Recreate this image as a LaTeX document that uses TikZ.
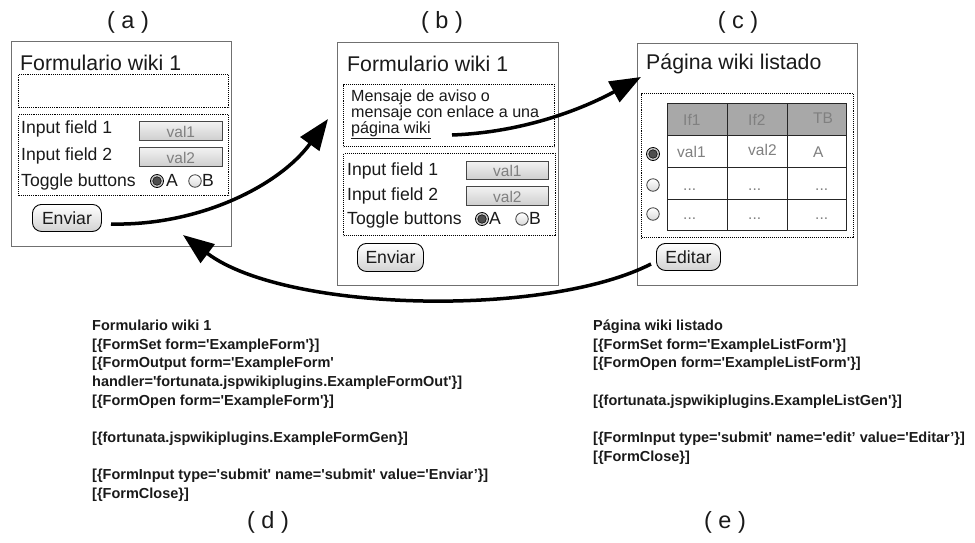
\documentclass[tikz,border=0pt]{standalone}
\usepackage{fontspec}
\setmainfont{Liberation Sans}
\usetikzlibrary{arrows.meta}

\newcommand\fsz[2]{\fontsize{#1}{#2}\selectfont}
\newcommand\sq{\textquotesingle}

\definecolor{frame}{HTML}{707070}
\definecolor{txt}{HTML}{1A1A1A}
\definecolor{valtxt}{HTML}{808080}
\definecolor{hdr}{HTML}{A8A8A8}
\definecolor{radiodark}{HTML}{4D4D4D}

\tikzset{
  panel/.style={draw=frame, line width=1.2pt, fill=white, inner sep=0pt, anchor=north west},
  dotbox/.style={draw=black, line width=1.2pt, dash pattern=on 1.1pt off 1pt, inner sep=0pt, anchor=north west},
  title/.style={anchor=base west, inner sep=0pt, font=\fsz{21.3}{25}, text=txt},
  lbl/.style={anchor=base west, inner sep=0pt, font=\fsz{17.6}{21}, text=txt},
  msg/.style={anchor=base west, inner sep=0pt, font=\fsz{16.1}{19}, text=txt},
  valbox/.style={draw=gray!55!black, line width=.8pt, top color=gray!10, bottom color=gray!38,
    text=valtxt, font=\fsz{15.5}{18}, minimum width=83pt, minimum height=19pt, inner sep=0pt,
    anchor=north west, text height=12.5pt, text depth=0pt},
  button/.style={draw=black, line width=.9pt, rounded corners=9pt, top color=white, bottom color=gray!35,
    font=\fsz{17.6}{21}, text=txt, inner sep=0pt, anchor=north west},
  radioon/.style={circle, draw=black, line width=.8pt, fill=gray!40, minimum size=13pt, inner sep=0pt,
    path picture={\fill[radiodark, draw=black, line width=.5pt] (path picture bounding box.center) circle (4.3pt);}},
  radiooff/.style={circle, draw=gray!50!black, line width=.8pt, top color=white, bottom color=gray!30,
    minimum size=12.5pt, inner sep=0pt},
  tag/.style={font=\fsz{23.5}{28}, text=txt, inner sep=0pt},
  code/.style={anchor=north west, inner sep=0pt, align=left, font=\bfseries\fsz{14.5}{18.7}, text=txt},
  cell/.style={anchor=base west, inner sep=0pt, font=\fsz{15.5}{18}, text=valtxt},
  flow/.style={line width=3.5pt, black, -{Triangle[length=31pt,width=23pt]}},
  grid/.style={draw=black!85, line width=1pt}
}

\begin{document}
\begin{tikzpicture}[x=1pt, y=-1pt]
\useasboundingbox (0,0) rectangle (975,542);

% ---------- (a) form page ----------
\node[tag] (la) at (128,22) {( a )};
\node[panel, minimum width=220pt, minimum height=205pt] (pa) at (11,41) {};
\node[title] (ta) at (20,70) {Formulario wiki 1};
\node[dotbox, minimum width=210pt, minimum height=33pt] (da1) at (18,74) {};
\node[dotbox, minimum width=210pt, minimum height=81pt] (da2) at (18,114) {};
\node[lbl] (a1) at (21,133) {Input field 1};
\node[valbox] (av1) at (139,121) {val1};
\node[lbl] (a2) at (21,160) {Input field 2};
\node[valbox] (av2) at (139,147) {val2};
\node[lbl] (a3) at (21,186) {Toggle buttons};
\node[radioon] (ara) at (157,181) {};
\node[lbl] (aA) at (166,186) {A};
\node[radiooff] (arb) at (195,181) {};
\node[lbl] (aB) at (202,186) {B};
\node[button, minimum width=69pt, minimum height=27pt] (aenv) at (32,204) {Enviar};

% ---------- (b) form page with message ----------
\node[tag] (lb) at (442,22) {( b )};
\node[panel, minimum width=221pt, minimum height=243pt] (pb) at (337,42) {};
\node[title] (tb) at (347,71) {Formulario wiki 1};
\node[dotbox, minimum width=211pt, minimum height=62pt] (db1) at (343,84) {};
\node[msg] (m1) at (351,101) {Mensaje de aviso o};
\node[msg] (m2) at (351,117) {mensaje con enlace a una};
\node[msg] (m3) at (351,133) {\underline{página wiki}};
\node[dotbox, minimum width=212pt, minimum height=82pt] (db2) at (343,153) {};
\node[lbl] (b1) at (347,175) {Input field 1};
\node[valbox, minimum width=82pt, minimum height=18pt] (bv1) at (466,161) {val1};
\node[lbl] (b2) at (347,200) {Input field 2};
\node[valbox, minimum width=82pt] (bv2) at (466,186) {val2};
\node[lbl] (b3) at (347,224) {Toggle buttons};
\node[radioon] (bra) at (482,219) {};
\node[lbl] (bA) at (489,224) {A};
\node[radiooff] (brb) at (522,219) {};
\node[lbl] (bB) at (529,224) {B};
\node[button, minimum width=66pt, minimum height=28pt] (benv) at (357,243) {Enviar};

% ---------- (c) list page ----------
\node[tag] (lc) at (738,22) {( c )};
\node[panel, minimum width=220pt, minimum height=242pt] (pc) at (637,43) {};
\node[title] (tc) at (646,69) {Página wiki listado};
\node[dotbox, minimum width=212pt, minimum height=144pt] (dc) at (641,93) {};
\fill[hdr] (667,103) rectangle (846,135);
\draw[grid] (667,103) rectangle (846,230);
\draw[grid] (727,103) -- (727,230) (787,103) -- (787,230);
\draw[grid] (667,135) -- (846,135) (667,167) -- (846,167) (667,199) -- (846,199);
\node[cell] (h1) at (683,125) {If1};
\node[cell] (h2) at (748,125) {If2};
\node[cell] (h3) at (813,123) {TB};
\node[cell] (r11) at (677,157) {val1};
\node[cell] (r12) at (748,155) {val2};
\node[cell] (r13) at (813,157) {A};
\node[cell] (r21) at (683,190) {...};
\node[cell] (r22) at (748,190) {...};
\node[cell] (r23) at (815,190) {...};
\node[cell] (r31) at (683,219) {...};
\node[cell] (r32) at (748,219) {...};
\node[cell] (r33) at (815,219) {...};
\node[radioon] (rc1) at (653,154) {};
\node[radiooff] (rc2) at (653,185) {};
\node[radiooff] (rc3) at (653,214) {};
\node[button, minimum width=64pt, minimum height=27pt] (cedit) at (656,243) {Editar};

% ---------- navigation arrows ----------
\coordinate (s1) at (111,224);
\coordinate (e1) at (328,119);
\draw[flow] (s1) .. controls (200,226) and (280,185) .. (e1);
\coordinate (s2) at (452,135);
\coordinate (e2) at (641,77);
\draw[flow] (s2) .. controls (530,132) and (590,105) .. (e2);
\coordinate (s3) at (651,264);
\coordinate (e3) at (183,235);
\draw[flow] (s3) .. controls (545,318) and (285,312) .. (e3);

% ---------- (d) wiki markup of the form page ----------
\node[code] (cd) at (92,319.6) {Formulario wiki 1\\
{[}\{FormSet form=\sq ExampleForm\sq\}]\\
{[}\{FormOutput form=\sq ExampleForm\sq\\
handler=\sq fortunata.jspwikiplugins.ExampleFormOut\sq\}]\\
{[}\{FormOpen form=\sq ExampleForm\sq\}]\\[18.7pt]
{[}\{fortunata.jspwikiplugins.ExampleFormGen\}]\\[18.7pt]
{[}\{FormInput type=\sq submit\sq{} name=\sq submit\sq{} value=\sq Enviar’\}]\\
{[}\{FormClose\}]};
\node[tag] (ld) at (268,522) {( d )};

% ---------- (e) wiki markup of the list page ----------
\node[code] (ce) at (593,319.6) {Página wiki listado\\
{[}\{FormSet form=\sq ExampleListForm\sq\}]\\
{[}\{FormOpen form=\sq ExampleListForm\sq\}]\\[18.7pt]
{[}\{fortunata.jspwikiplugins.ExampleListGen\sq\}]\\[18.7pt]
{[}\{FormInput type=\sq submit\sq{} name=\sq edit’ value=\sq Editar’\}]\\
{[}\{FormClose\}]};
\node[tag] (le) at (725,522) {( e )};

\end{tikzpicture}
\end{document}
